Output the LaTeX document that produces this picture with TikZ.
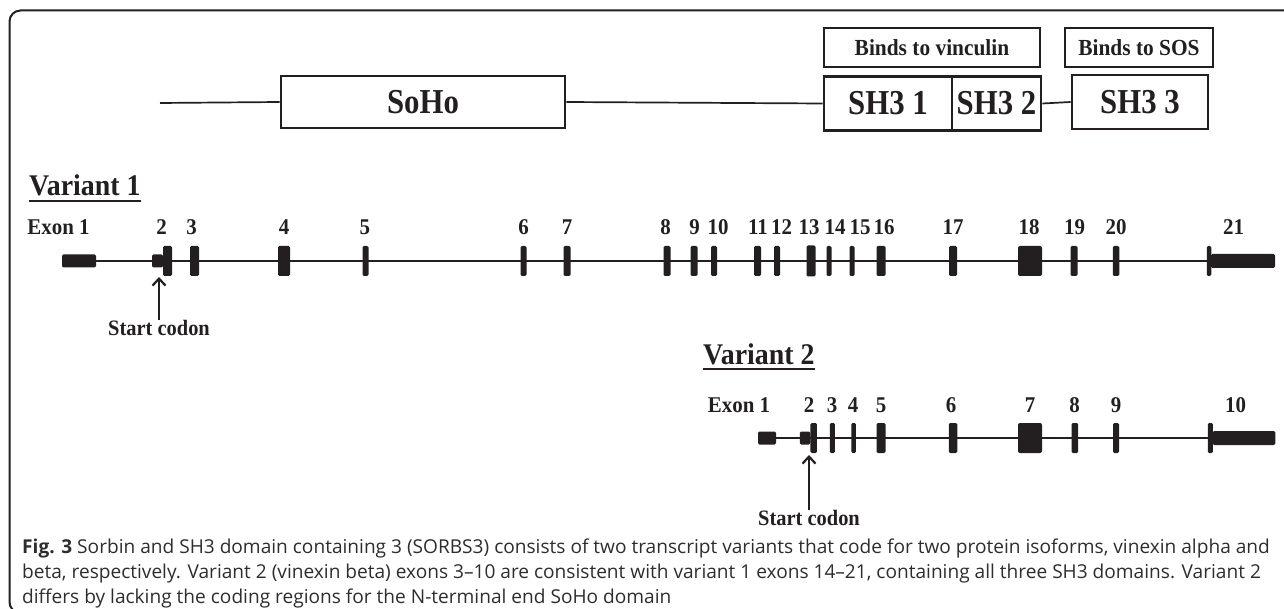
\documentclass[tikz,border=0pt]{standalone}
\usepackage{fontspec}
\setmainfont{Liberation Serif}
\newfontfamily\dfont[FakeStretch=0.93]{Liberation Serif}
\newfontfamily\dfontc[FakeStretch=0.88]{Liberation Serif}
\newfontfamily\capfont{Open Sans}
\usetikzlibrary{backgrounds,arrows.meta}
\definecolor{ink}{RGB}{35,31,32}
\definecolor{capink}{RGB}{45,45,45}
\tikzset{
  exbar/.style={fill=ink, draw=none, rounded corners=1.3, inner sep=0pt, outer sep=0pt, minimum height=30, minimum width=#1},
  exblk/.style={fill=ink, draw=none, rounded corners=1.3, inner sep=0pt, outer sep=0pt, minimum height=13, minimum width=#1},
  exlab/.style={font={\dfont\bfseries\fontsize{22.5}{22.5}\selectfont}, text=ink, anchor=base, inner sep=0pt},
  dombox/.style={draw=ink, line width=2.8, inner sep=0pt, text=ink, font={\dfontc\bfseries\fontsize{35}{35}\selectfont}},
  bindbox/.style={draw=ink, line width=2.8, inner sep=0pt, text=ink, font={\dfont\bfseries\fontsize{23}{23}\selectfont}},
  vtitle/.style={font={\dfont\bfseries\fontsize{30}{30}\selectfont}, text=ink, anchor=base west, inner sep=0pt},
  scodon/.style={font={\dfont\bfseries\fontsize{22}{22}\selectfont}, text=ink, anchor=north, inner sep=0pt},
  intron/.style={draw=ink, line width=2.2},
  protline/.style={draw=ink, line width=1.7},
  uarrow/.style={draw=ink, line width=2.2, -{Straight Barb[length=7, width=13, line width=2.2]}},
  captext/.style={font={\capfont\fontsize{19.1}{19.1}\selectfont}, text=capink, anchor=base west, inner sep=0pt}
}
\begin{document}
\begin{tikzpicture}[x=1pt,y=-1pt]
\useasboundingbox (0,0) rectangle (1284,609);
% frame
\draw[draw=ink, line width=2, rounded corners=11] (1300,10.5) -- (9.5,10.5) -- (9.5,613) -- (60,613);

% ---------- protein domain diagram ----------
\coordinate (pstart) at (160,103);
\node[dombox, minimum width=284, minimum height=52] (soho) at (423,102) {SoHo};
\node[dombox, minimum width=128, minimum height=54] (sh31) at (888,103.5) {SH3 1};
\node[dombox, minimum width=89, minimum height=54] (sh32) at (996.5,103.5) {SH3 2};
\node[dombox, minimum width=136, minimum height=54] (sh33) at (1140,102) {SH3 3};
\node[bindbox, minimum width=216, minimum height=39] (bvin) at (932,47.5) {Binds to vinculin};
\node[bindbox, minimum width=148, minimum height=39] (bsos) at (1139,47.5) {Binds to SOS};
\draw[protline] (pstart) -- (soho.west);
\draw[protline] (soho.east) -- (sh31.west);
\draw[protline] (sh32.east) -- (sh33.west);

% ---------- Variant 1 ----------
\node[vtitle] (v1t) at (29,196) {Variant 1};
\draw[draw=ink, line width=2.8] ([yshift=-5]v1t.base west) -- ([yshift=-5]v1t.base east);

\node[exblk=34] (v1e1) at (79,261) {};
\node[exblk=11] (v1e2s) at (157.5,261) {};
\node[exbar=9] (v1e2) at (167.5,261) {};
\node[exbar=9] (v1e3) at (194.5,261) {};
\node[exbar=12] (v1e4) at (284,261) {};
\node[exbar=6] (v1e5) at (365.5,261) {};
\node[exbar=6] (v1e6) at (523.5,261) {};
\node[exbar=7] (v1e7) at (567,261) {};
\node[exbar=7] (v1e8) at (667,261) {};
\node[exbar=7] (v1e9) at (694,261) {};
\node[exbar=6] (v1e10) at (714,261) {};
\node[exbar=7] (v1e11) at (757.5,261) {};
\node[exbar=6] (v1e12) at (777,261) {};
\node[exbar=9, minimum height=31] (v1e13) at (811,261) {};
\node[exbar=5] (v1e14) at (829,261) {};
\node[exbar=5] (v1e15) at (852,261) {};
\node[exbar=9] (v1e16) at (881,261) {};
\node[exbar=8] (v1e17) at (953,261) {};
\node[exbar=24, rounded corners=2] (v1e18) at (1030,261) {};
\node[exbar=7] (v1e19) at (1074,261) {};
\node[exbar=6.5] (v1e20) at (1116,261) {};
\node[exbar=4.5] (v1e21) at (1209,261) {};
\node[exblk=64, minimum height=14] (v1e21b) at (1243,261) {};
\begin{scope}[on background layer]
\draw[intron] (v1e1.east) -- (v1e21.west);
\end{scope}

\node[exlab] (l1e1) at (58.5,235) {Exon 1};
\node[exlab] (l1e2) at (161.7,235) {2};
\node[exlab] (l1e3) at (191.5,235) {3};
\node[exlab] (l1e4) at (284,235) {4};
\node[exlab] (l1e5) at (364.8,235) {5};
\node[exlab] (l1e6) at (523.5,235) {6};
\node[exlab] (l1e7) at (567,235) {7};
\node[exlab] (l1e8) at (665.5,235) {8};
\node[exlab] (l1e9) at (694.6,235) {9};
\node[exlab] (l1e10) at (718,235) {10};
\node[exlab] (l1e11) at (758,235) {11};
\node[exlab] (l1e12) at (781.7,235) {12};
\node[exlab] (l1e13) at (809,235) {13};
\node[exlab] (l1e14) at (835,235) {14};
\node[exlab] (l1e15) at (860,235) {15};
\node[exlab] (l1e16) at (884,235) {16};
\node[exlab] (l1e17) at (953,235) {17};
\node[exlab] (l1e18) at (1029,235) {18};
\node[exlab] (l1e19) at (1074.5,235) {19};
\node[exlab] (l1e20) at (1116,235) {20};
\node[exlab] (l1e21) at (1233.5,235) {21};

\node[scodon] (sc1) at (159,320) {Start codon};
\coordinate (sc1tip) at (159,277);
\draw[uarrow] (sc1.north) -- (sc1tip);

% ---------- Variant 2 ----------
\node[vtitle] (v2t) at (703,364) {Variant 2};
\draw[draw=ink, line width=2.8] ([yshift=-5]v2t.base west) -- ([yshift=-5]v2t.base east);

\node[exblk=18] (v2e1) at (767,438) {};
\node[exblk=10.5] (v2e2s) at (805,438) {};
\node[exbar=6.5] (v2e2) at (813.7,438) {};
\node[exbar=5] (v2e3) at (832.4,438) {};
\node[exbar=4.5] (v2e4) at (853.6,438) {};
\node[exbar=9] (v2e5) at (881,438) {};
\node[exbar=8.5] (v2e6) at (953,438) {};
\node[exbar=24, rounded corners=2] (v2e7) at (1030,438) {};
\node[exbar=6.5] (v2e8) at (1074.8,438) {};
\node[exbar=6] (v2e9) at (1116,438) {};
\node[exbar=5] (v2e10) at (1210.3,438) {};
\node[exblk=62.5, minimum height=14] (v2e10b) at (1244,438) {};
\begin{scope}[on background layer]
\draw[intron] (v2e1.east) -- (v2e10.west);
\end{scope}

\node[exlab] (l2e1) at (739,412) {Exon 1};
\node[exlab] (l2e2) at (809,412) {2};
\node[exlab] (l2e3) at (832,412) {3};
\node[exlab] (l2e4) at (853,412) {4};
\node[exlab] (l2e5) at (881,412) {5};
\node[exlab] (l2e6) at (951,412) {6};
\node[exlab] (l2e7) at (1030,412) {7};
\node[exlab] (l2e8) at (1074.5,412) {8};
\node[exlab] (l2e9) at (1116,412) {9};
\node[exlab] (l2e10) at (1235.5,412) {10};

\node[scodon] (sc2) at (809,510) {Start codon};
\coordinate (sc2tip) at (809,455);
\draw[uarrow] (sc2.north) -- (sc2tip);

% ---------- caption ----------
\node[captext] (cap1) at (22,553) {\textbf{Fig. 3} Sorbin and SH3 domain containing 3 (SORBS3) consists of two transcript variants that code for two protein isoforms, vinexin alpha and};
\node[captext] (cap2) at (22,578) {beta, respectively. Variant 2 (vinexin beta) exons 3–10 are consistent with variant 1 exons 14–21, containing all three SH3 domains. Variant 2};
\node[captext] (cap3) at (22,603) {differs by lacking the coding regions for the N-terminal end SoHo domain};
\end{tikzpicture}
\end{document}
